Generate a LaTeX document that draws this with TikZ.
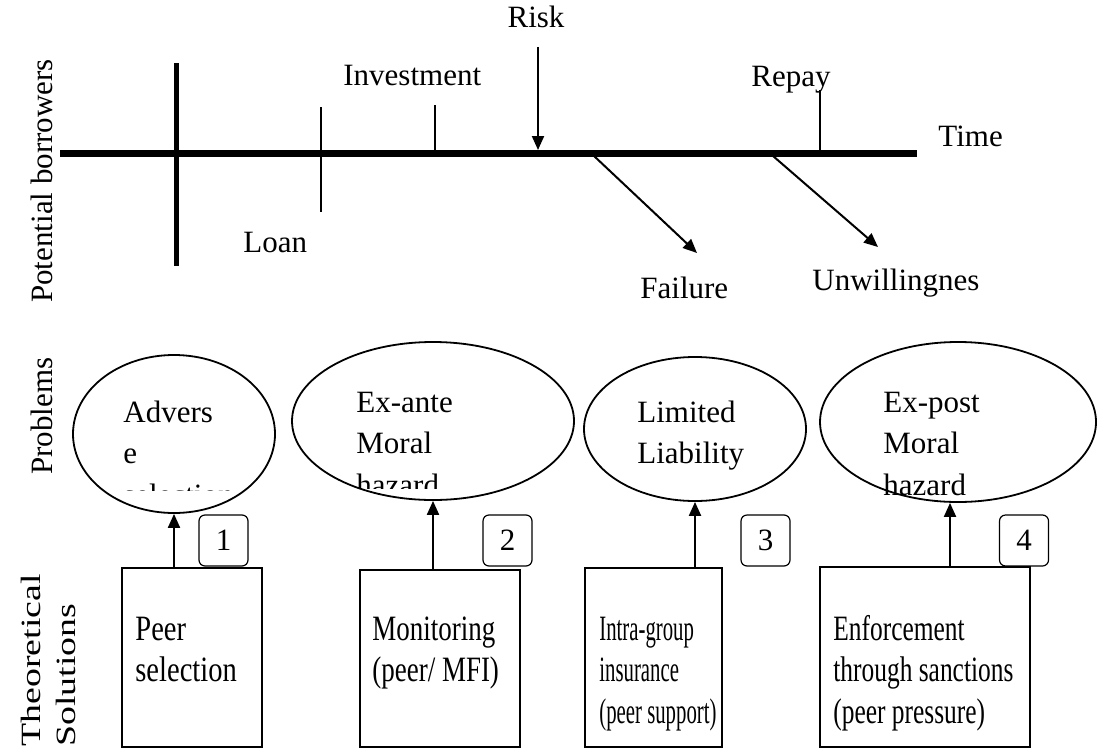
\documentclass[tikz,border=0pt]{standalone}
\usepackage{fontspec}
\setmainfont{Liberation Serif}
\usetikzlibrary{arrows.meta,shapes.geometric}
\newcommand{\sqz}[3]{\scalebox{#1}[#2]{#3}}
\begin{document}
\begin{tikzpicture}[x=0.5pt,y=-0.5pt,
  every node/.style={font=\fontsize{15.5}{20.75}\selectfont, inner sep=0pt},
  txt/.style={align=left, anchor=base west},
  tick/.style={line width=0.75pt},
  arr/.style={line width=1pt, -{Triangle[length=7pt,width=6pt]}},
  probell/.style={draw, ellipse, line width=0.9pt},
  solbox/.style={draw, rectangle, line width=0.9pt},
  numbox/.style={draw, rounded corners=3pt, line width=0.6pt, minimum width=24.5pt, minimum height=25.5pt},
  side/.style={rotate=90, anchor=base}
]
\useasboundingbox (0,0) rectangle (1106,749);

% ---- timeline ----
\coordinate (t0) at (60,153);
\coordinate (t1) at (917,153);
\draw[line width=3.5pt] (t0) -- (t1);
\coordinate (v0) at (176,63);
\coordinate (v1) at (176,266);
\draw[line width=2.5pt] (v0) -- (v1);

\coordinate (loanA) at (321,107);
\coordinate (loanB) at (321,212);
\draw[tick] (loanA) -- (loanB);
\coordinate (invA) at (435,105);
\coordinate (invB) at (435,153);
\draw[tick] (invA) -- (invB);
\coordinate (repA) at (820,90);
\coordinate (repB) at (820,153);
\draw[tick] (repA) -- (repB);

\coordinate (riskA) at (538,47);
\coordinate (riskB) at (538,150);
\draw[arr] (riskA) -- (riskB);
\coordinate (failA) at (594,156);
\coordinate (failB) at (697,253);
\draw[arr] (failA) -- (failB);
\coordinate (unwA) at (773,156);
\coordinate (unwB) at (878,247);
\draw[arr] (unwA) -- (unwB);

\node[anchor=base] (risk) at (536,28) {Risk};
\node[txt] (inv) at (343,86) {Investment};
\node[txt] (repay) at (751,87) {Repay};
\node[txt] (time) at (938,146) {Time};
\node[txt] (loan) at (243,252) {Loan};
\node[txt] (fail) at (640,298) {Failure};
\node[txt] (unw) at (812,290) {Unwillingnes};

% ---- side labels ----
\node[side] (pb) at (52,181) {Potential borrowers};
\node[side] (pr) at (52,416) {Problems};
\node[rotate=90, anchor=base west] (th) at (40,747) {\sqz{1.22}{0.9}{Theoretical}};
\node[rotate=90, anchor=base west] (so) at (75,747) {\sqz{1.22}{0.9}{Solutions}};

% ---- problems ----
\node[probell, minimum width=101pt, minimum height=79pt] (e1) at (174,434) {};
\node[probell, minimum width=141pt, minimum height=79pt] (e2) at (433,421) {};
\node[probell, minimum width=111pt, minimum height=72pt] (e3) at (695,429) {};
\node[probell, minimum width=138pt, minimum height=80pt] (e4) at (958,422) {};

\begin{scope}
\clip (110,380) rectangle (270,490);
\node[txt] (t1a) at (123,505) {Advers\\e\\selection};
\end{scope}
\begin{scope}
\clip (340,370) rectangle (560,488);
\node[txt] (t2a) at (356,495) {Ex-ante\\Moral\\hazard};
\end{scope}
\node[txt] (t3a) at (637,463.5) {Limited\\Liability};
\node[txt] (t4a) at (883,495) {Ex-post\\Moral\\hazard};

% ---- solutions ----
\node[solbox, minimum width=70pt, minimum height=89.5pt] (s1) at (192,657.5) {};
\node[solbox, minimum width=80pt, minimum height=88.5pt] (s2) at (440,658.5) {};
\node[solbox, minimum width=68.5pt, minimum height=89.5pt] (s3) at (653.5,657.5) {};
\node[solbox, minimum width=105pt, minimum height=90pt] (s4) at (925,657) {};

\node[txt] (s1t) at (135,681.5) {\sqz{0.92}{1.15}{Peer}\\\sqz{0.92}{1.15}{selection}};
\node[txt] (s2t) at (372,681.5) {\sqz{0.87}{1.15}{Monitoring}\\\sqz{0.87}{1.15}{(peer/ MFI)}};
\node[txt] (s3t) at (599,723) {\sqz{0.67}{1.15}{Intra-group}\\\sqz{0.67}{1.15}{insurance}\\\sqz{0.67}{1.15}{(peer support)}};
\node[txt] (s4t) at (833,723) {\sqz{0.82}{1.15}{Enforcement}\\\sqz{0.82}{1.15}{through sanctions}\\\sqz{0.82}{1.15}{(peer pressure)}};

% ---- numbers ----
\node[numbox] (n1) at (223.5,540.5) {1};
\node[numbox] (n2) at (507.5,540.5) {2};
\node[numbox] (n3) at (765.5,540.5) {3};
\node[numbox] (n4) at (1024,540.5) {4};

% ---- arrows ----
\draw[arr] (s1.north -| e1.south) -- (e1.south);
\draw[arr] (s2.north -| e2.south) -- (e2.south);
\draw[arr] (s3.north -| e3.south) -- (e3.south);
\draw[arr] ([xshift=-4pt]e4.south |- s4.north) -- ([xshift=-4pt]e4.south);
\end{tikzpicture}
\end{document}
